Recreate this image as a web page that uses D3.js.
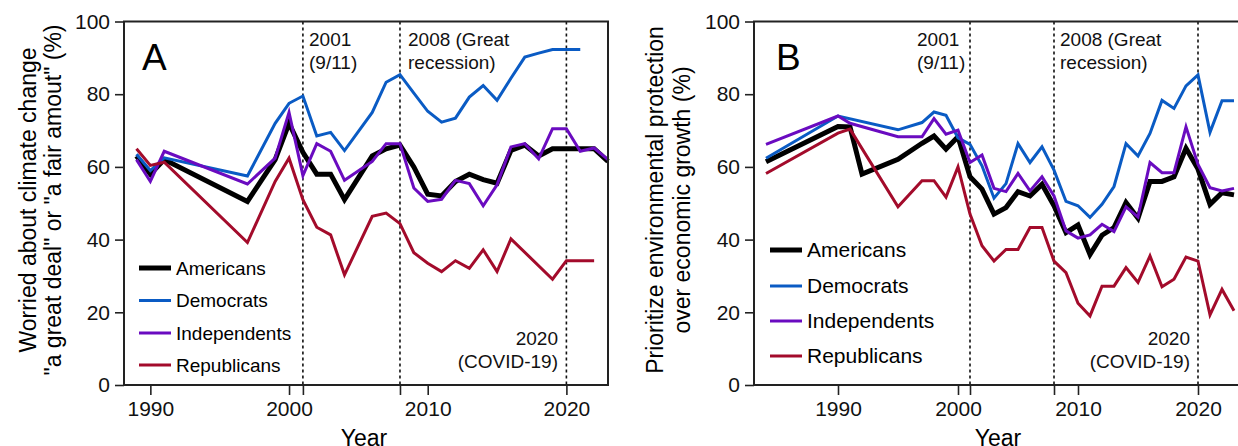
<!DOCTYPE html>
<html lang="en">
<head>
<meta charset="UTF-8">
<title>Climate worry and environment priority</title>
<script src="https://d3js.org/d3.v7.min.js"></script>
<style>
  body { margin: 0; background: #fff; }
  svg { display: block; font-family: 'Liberation Sans', Arial, sans-serif; }
  .axis path, .axis line { stroke: #222; stroke-width: 1.6; }
  .axis text { font-size: 21px; fill: #111; }
</style>
</head>
<body>
<div id="chart"></div>
<script>
// ---- data ----
const seriesNames = ["Americans", "Democrats", "Independents", "Republicans"];
const seriesColors = ["#000000", "#0a5bc4", "#6a0bc0", "#a30b2b"];
const seriesWidths = [5, 3, 3, 3];

// panel A: worried about climate change (%)
const yearsA = [1989, 1990, 1991, 1997, 1999, 2000, 2001, 2002, 2003, 2004, 2006, 2007, 2008,
  2009, 2010, 2011, 2012, 2013, 2014, 2015, 2016, 2017, 2018, 2019, 2020, 2021, 2022, 2023];
const americansA = [63, 58, 62, 50.5, 62, 72, 64, 58, 58, 51, 63, 65, 66,
  60, 52.5, 52, 56, 58, 56.5, 55.5, 64.5, 66, 63, 65, 65, 65, 65, 61.5];
const democratsA = [63.5, 59, 62.5, 57.5, 72, 77.5, 79.5, 68.5, 69.5, 64.5, 75, 83.3, 85.4,
  80.3, 75.3, 72.3, 73.4, 79.2, 82.4, 78.3, 84.4, 90.2, 91.3, 92.3, 92.3, 92.3, null, null];
const independentsA = [62, 56, 64.3, 55.3, 62.4, 75, 57.6, 66.4, 64.3, 56.3, 61.5, 66.4, 66.4,
  54.2, 50.5, 51.1, 56.3, 55.4, 49.3, 55.1, 65.5, 66.4, 62.2, 70.5, 70.5, 64.3, 65.2, 62];
const republicansA = [65, 60.4, 61.3, 39.2, 56, 62.4, 51, 43.4, 41.3, 30.3, 46.4, 47.3, 44.4,
  36.4, 33.5, 31.2, 34.2, 32.1, 37.2, 31.2, 40.2, null, null, 29.1, 34.2, 34.2, 34.2, null];

// panel B: prioritize environmental protection over economic growth (%)
const yearsB = [1984, 1990, 1991, 1992, 1995, 1997, 1998, 1999, 2000, 2001, 2002, 2003, 2004,
  2005, 2006, 2007, 2008, 2009, 2010, 2011, 2012, 2013, 2014, 2015, 2016, 2017, 2018, 2019,
  2020, 2021, 2022, 2023];
const americansB = [61.4, 71.1, 71, 58, 62.1, 66.5, 68.5, 64.9, 68.3, 57.3, 53.9, 47, 48.8,
  53.2, 52, 55.2, 49.3, 41.9, 44, 35.9, 41.2, 43.3, 50.2, 45.9, 56, 56, 57.3, 65.1,
  59.4, 49.7, 52.9, 52.3];
const democratsB = [62.4, 74, null, null, 70.2, 72.2, 75.1, 74.2, 68, 66.2, 60.3, 51.4, 55.4,
  66.4, 61.2, 65.5, 59.1, 50.5, 49.3, 46.1, 49.7, 54.6, 66.4, 63, 69.2, 78.3, 76.1, 82.3,
  85.3, 69.5, 78.2, 78.2];
const independentsB = [66.2, 74, 72, null, 68.3, 68.3, 73.3, 69, 70.1, 61.2, 63.3, 54.1, 53.2,
  58.2, 53.4, 57.3, 52, 42.4, 40.4, 41.3, 44.2, 42.2, 49, 46.2, 61.2, 58.4, 58.4, 71,
  60.7, 54.3, 53.4, 54.1];
const republicansB = [58.2, 69.3, 70.4, null, 49, 56.2, 56.2, 51.7, 60, 47, 38.3, 34.1, 37.3,
  37.3, 43.3, 43.3, 34.1, 30.9, 22.5, 19, 27.2, 27.2, 32.3, 28.2, 35.5, 27, 29.1, 35.2,
  34.1, 19.3, 26.3, 20.4];

const eventYears = [2001, 2008, 2020];
const xTickYears = [1990, 2000, 2001, 2008, 2010, 2020];
const yTicks = [0, 20, 40, 60, 80, 100];

const W = 1238, H = 446;
const svg = d3.select("#chart").append("svg")
  .attr("width", W).attr("height", H);

const panels = [
  {
    letter: "A", years: yearsA,
    values: [americansA, democratsA, independentsA, republicansA],
    xDomain: [1988.1, 2023], xRange: [124, 608],
    ylabel: ["Worried about climate change", "\"a great deal\" or \"a fair amout\" (%)"],
    ylabelX: [36, 61], letterX: 142,
    notes: { n2001: { x: 309, anchor: "start" }, n2008: 408, n2020: 558 },
    legend: { x0: 139, x1: 171, tx: 176, ys: [268, 300.5, 333, 365], size: 19 }
  },
  {
    letter: "B", years: yearsB,
    values: [americansB, democratsB, independentsB, republicansB],
    xDomain: [1983, 2024], xRange: [754, 1246],
    ylabel: ["Prioritize environmental protection", "over economic growth (%)"],
    ylabelX: [663, 690], letterX: 776,
    notes: { n2001: { x: 917, anchor: "start" }, n2008: 1060, n2020: 1190 },
    legend: { x0: 770, x1: 802, tx: 807, ys: [250, 286, 321, 356], size: 21 }
  }
];

const y = d3.scaleLinear().domain([0, 100]).range([385, 21.5]);

panels.forEach(p => {
  const x = d3.scaleLinear().domain(p.xDomain).range(p.xRange);
  const g = svg.append("g");
  const [left, right] = p.xRange;

  // dashed event lines
  g.selectAll(".event").data(eventYears).enter().append("line")
    .attr("x1", d => x(d)).attr("x2", d => x(d))
    .attr("y1", y(100)).attr("y2", y(0))
    .attr("stroke", "#111").attr("stroke-width", 1.6)
    .attr("stroke-dasharray", "3,3");

  // series lines
  const line = d3.line().x(d => x(d[0])).y(d => y(d[1]));
  p.values.forEach((vals, i) => {
    const pts = p.years.map((yr, k) => [yr, vals[k]]).filter(d => d[1] != null);
    g.append("path").datum(pts)
      .attr("d", line)
      .attr("fill", "none")
      .attr("stroke", seriesColors[i])
      .attr("stroke-width", seriesWidths[i])
      .attr("stroke-linejoin", "miter");
  });

  // frame
  g.append("rect")
    .attr("x", left).attr("y", y(100))
    .attr("width", right - left).attr("height", y(0) - y(100))
    .attr("fill", "none").attr("stroke", "#222").attr("stroke-width", 2);

  // axes
  g.append("g").attr("class", "axis")
    .attr("transform", `translate(${left},0)`)
    .call(d3.axisLeft(y).tickValues(yTicks).tickSize(9).tickPadding(5).tickSizeOuter(0));
  g.append("g").attr("class", "axis")
    .attr("transform", `translate(0,${y(0)})`)
    .call(d3.axisBottom(x).tickValues(xTickYears).tickSize(10).tickPadding(6).tickSizeOuter(0)
      .tickFormat(d => (d === 2001 || d === 2008) ? "" : d));
  g.selectAll(".axis .domain").remove();

  // x label (cut by the bottom edge, as in the source figure)
  g.append("text")
    .attr("x", (left + right) / 2 - 2).attr("y", 446)
    .attr("text-anchor", "middle").attr("font-size", 23)
    .text("Year");

  // y label (two lines)
  p.ylabel.forEach((t, i) => {
    g.append("text")
      .attr("transform", `translate(${p.ylabelX[i]},200) rotate(-90)`)
      .attr("text-anchor", "middle").attr("font-size", 23)
      .text(t);
  });

  // panel letter
  g.append("text").attr("x", p.letterX).attr("y", 70)
    .attr("font-size", 37).text(p.letter);

  // event annotations
  const note = (xx, yy, anchor, txt) => g.append("text")
    .attr("x", xx).attr("y", yy).attr("text-anchor", anchor)
    .attr("font-size", 19).attr("fill", "#111").text(txt);
  note(p.notes.n2001.x, 46, p.notes.n2001.anchor, "2001");
  note(p.notes.n2001.x, 69, p.notes.n2001.anchor, "(9/11)");
  note(p.notes.n2008, 46, "start", "2008 (Great");
  note(p.notes.n2008, 69, "start", "recession)");
  note(p.notes.n2020, 345, "end", "2020");
  note(p.notes.n2020, 368, "end", "(COVID-19)");

  // legend
  const lg = p.legend;
  seriesNames.forEach((name, i) => {
    g.append("line")
      .attr("x1", lg.x0).attr("x2", lg.x1)
      .attr("y1", lg.ys[i]).attr("y2", lg.ys[i])
      .attr("stroke", seriesColors[i]).attr("stroke-width", i === 0 ? 5 : 3);
    g.append("text")
      .attr("x", lg.tx).attr("y", lg.ys[i]).attr("dy", "0.35em")
      .attr("font-size", lg.size).text(name);
  });
});
</script>
</body>
</html>
